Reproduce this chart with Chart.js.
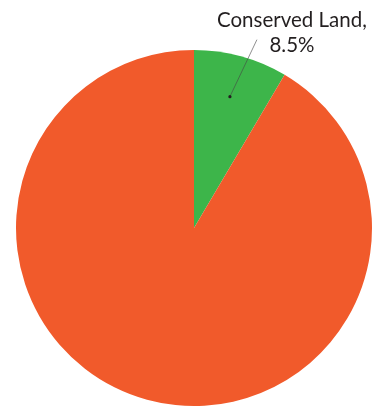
<!DOCTYPE html>
<html>
<head>
<meta charset="utf-8">
<script src="https://cdn.jsdelivr.net/npm/chart.js@4"></script>
<style>
  html, body { margin: 0; padding: 0; background: #fff; }
  #wrap { width: 374px; height: 408px; position: relative; }
</style>
</head>
<body>
<div id="wrap"><canvas id="landPie"></canvas></div>
<script>
const categories = ["Conserved Land", "Other Land"];
const shares = [8.5, 91.5];
const sliceColors = ["#3db54a", "#f15a2b"];

// callout for the conserved slice: dot inside the slice, thin line up to the text
const calloutPlugin = {
  id: "callout",
  afterDatasetsDraw(chart) {
    const arc = chart.getDatasetMeta(0).data[0];
    const { x, y, startAngle, endAngle, outerRadius } = arc.getProps(
      ["x", "y", "startAngle", "endAngle", "outerRadius"], true
    );
    const mid = (startAngle + endAngle) / 2;
    const dx = x + Math.cos(mid) * outerRadius * 0.765;
    const dy = y + Math.sin(mid) * outerRadius * 0.765;
    const ex = dx + 27;
    const ey = dy - 57;
    const ctx = chart.ctx;
    ctx.save();
    ctx.strokeStyle = "#444";
    ctx.lineWidth = 0.6;
    ctx.beginPath();
    ctx.moveTo(dx, dy);
    ctx.lineTo(ex, ey);
    ctx.stroke();
    ctx.fillStyle = "#231f20";
    ctx.beginPath();
    ctx.arc(dx, dy, 1.6, 0, Math.PI * 2);
    ctx.fill();
    ctx.font = "20.5px Lato";
    ctx.textAlign = "center";
    ctx.textBaseline = "alphabetic";
    ctx.fillText(categories[0] + ",", ex + 35, ey - 13);
    ctx.fillText(shares[0].toFixed(1) + "%", ex + 35, ey + 12);
    ctx.restore();
  },
};

new Chart(document.getElementById("landPie"), {
  type: "pie",
  data: {
    labels: categories,
    datasets: [
      {
        data: shares,
        backgroundColor: sliceColors,
        borderWidth: 0,
      },
    ],
  },
  options: {
    responsive: true,
    maintainAspectRatio: false,
    animation: false,
    layout: { padding: { left: 16, right: 2, top: 50, bottom: 2 } },
    plugins: { legend: { display: false }, tooltip: { enabled: false } },
  },
  plugins: [calloutPlugin],
});
</script>
</body>
</html>
